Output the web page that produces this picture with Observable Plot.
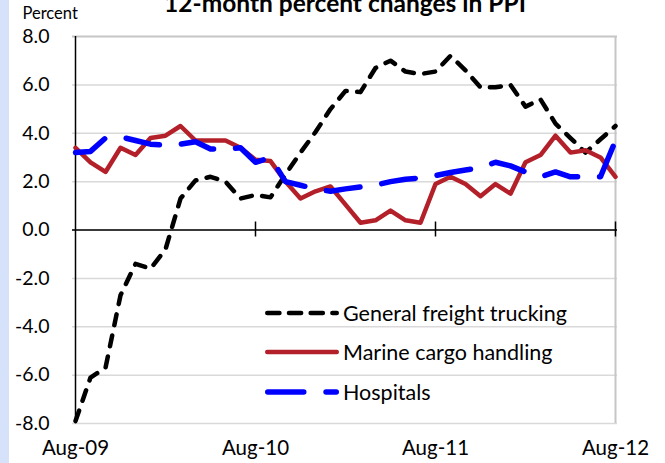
<!DOCTYPE html>
<html><head><meta charset="utf-8">
<script src="https://cdn.jsdelivr.net/npm/d3@7"></script>
<script src="https://cdn.jsdelivr.net/npm/@observablehq/plot@0.6"></script>
<style>
html,body{margin:0;padding:0;background:#fff;}
#wrap{position:relative;width:665px;height:463px;overflow:hidden;background:#fff;}
#strip{position:absolute;left:0;top:0;width:9px;height:463px;background:#d6e2fa;}
#chart{position:absolute;left:0;top:0;}
.lg{position:absolute;left:265px;height:26px;line-height:26px;display:flex;align-items:center;font-family:Lato,sans-serif;font-size:21.5px;color:#000;white-space:nowrap;}
.lg svg{display:block;margin-right:4px;}
</style></head><body>
<div id="wrap"><div id="chart"></div><div id="strip"></div><div id="legend"></div></div>
<script>
const titleText = "12-month percent changes in PPI";
const yLabel = "Percent";
const months = ["Aug-09","Sep-09","Oct-09","Nov-09","Dec-09",
 "Jan-10","Feb-10","Mar-10","Apr-10","May-10","Jun-10","Jul-10","Aug-10","Sep-10","Oct-10","Nov-10","Dec-10",
 "Jan-11","Feb-11","Mar-11","Apr-11","May-11","Jun-11","Jul-11","Aug-11","Sep-11","Oct-11","Nov-11","Dec-11",
 "Jan-12","Feb-12","Mar-12","Apr-12","May-12","Jun-12","Jul-12","Aug-12"];
const tickMonths = ["Aug-09","Aug-10","Aug-11","Aug-12"];
const yTicks = [-8,-6,-4,-2,0,2,4,6,8];
const seriesNames = ["General freight trucking","Marine cargo handling","Hospitals"];
const trucking = [-7.9,-6.1,-5.7,-2.7,-1.4,-1.6,-0.8,1.3,2.05,2.2,2.0,1.3,1.45,1.35,2.3,3.2,4.05,5.0,5.75,5.7,6.7,7.0,6.55,6.45,6.55,7.2,6.6,5.9,5.9,6.0,5.1,5.4,4.4,3.8,3.2,3.75,4.3];
const marine = [3.4,2.8,2.4,3.4,3.1,3.8,3.9,4.3,3.7,3.7,3.7,3.4,2.9,2.85,2.0,1.3,1.6,1.8,1.05,0.3,0.4,0.8,0.4,0.3,1.9,2.2,1.9,1.4,1.9,1.5,2.8,3.1,3.9,3.2,3.3,3.0,2.2];
const hospitals = [3.2,3.25,3.8,3.85,3.7,3.55,3.5,3.55,3.65,3.35,3.35,3.4,2.8,3.0,2.0,1.85,1.7,1.6,1.7,1.78,1.86,2.0,2.1,2.15,2.25,2.38,2.48,2.58,2.8,2.65,2.4,2.2,2.4,2.2,2.2,2.2,3.7];

const styles = [
  {stroke:"#000000", strokeWidth:4.5, dash:"11,10.5"},
  {stroke:"#b4202a", strokeWidth:4.5, dash:null},
  {stroke:"#0000ff", strokeWidth:5.5, dash:"34,22"}
];
const toRows = (vals) => months.map((m, i) => ({month: m, value: vals[i]}));
const data = [toRows(trucking), toRows(marine), toRows(hospitals)];

const font = "Lato, sans-serif";
const chart = Plot.plot({
  width: 665, height: 463,
  marginLeft: 72, marginRight: 48, marginTop: 36, marginBottom: 40,
  style: {fontFamily: font, fontSize: "19.5px", background: "transparent", color: "#000", overflow: "visible"},
  x: {type: "point", domain: months, padding: 0},
  y: {domain: [-8, 8]},
  marks: [
    Plot.gridY(yTicks.slice(0, -1), {stroke: "#d9d9d9", strokeOpacity: 1, strokeWidth: 1.5}),
    Plot.ruleY([8], {stroke: "#c6c6c6", strokeWidth: 2}),
    Plot.ruleX([months[months.length - 1]], {stroke: "#c6c6c6", strokeWidth: 2}),
    Plot.ruleY([0], {stroke: "#000", strokeWidth: 1.5}),
    Plot.ruleX([months[0]], {stroke: "#000", strokeWidth: 1.5}),
    Plot.ruleX(tickMonths.slice(1), {x: d => d, y1: 0, y2: 0, insetTop: -8, insetBottom: -7, stroke: "#000", strokeWidth: 1.5}),
    ...data.map((rows, k) => Plot.line(rows, {
      x: "month", y: "value", stroke: styles[k].stroke, strokeWidth: styles[k].strokeWidth,
      strokeDasharray: styles[k].dash, strokeLinecap: "round", strokeLinejoin: "round"
    })),
    Plot.axisY(yTicks, {tickSize: 0, tickPadding: 23, tickFormat: d => d.toFixed(1), label: null, fontSize: 19.5}),
    Plot.axisX(tickMonths, {tickSize: 0, tickPadding: 17, label: null, fontSize: 20.5}),
    Plot.text([yLabel], {frameAnchor: "top-left", dx: -50, dy: -23, textAnchor: "start", lineAnchor: "middle", fontSize: 16.5}),
    Plot.text([titleText], {frameAnchor: "top", dy: -25, lineAnchor: "bottom", fontWeight: "bold", fontSize: 24.5})
  ]
});
document.getElementById("chart").appendChild(chart);

// legend
const legendTops = [300, 339, 379];
const lg = document.getElementById("legend");
seriesNames.forEach((name, k) => {
  const row = document.createElement("div");
  row.className = "lg";
  row.style.top = legendTops[k] + "px";
  const s = styles[k];
  const cap = s.strokeWidth / 2;
  row.innerHTML = `<svg width="74" height="12"><line x1="${cap}" y1="6" x2="${74 - cap}" y2="6" stroke="${s.stroke}" stroke-width="${s.strokeWidth}" stroke-linecap="round" ${k === 0 ? 'stroke-dasharray="12.2,9.5"' : k === 2 ? 'stroke-dasharray="36,22.3"' : ''}/></svg><span>${name}</span>`;
  lg.appendChild(row);
});
</script>
</body></html>
